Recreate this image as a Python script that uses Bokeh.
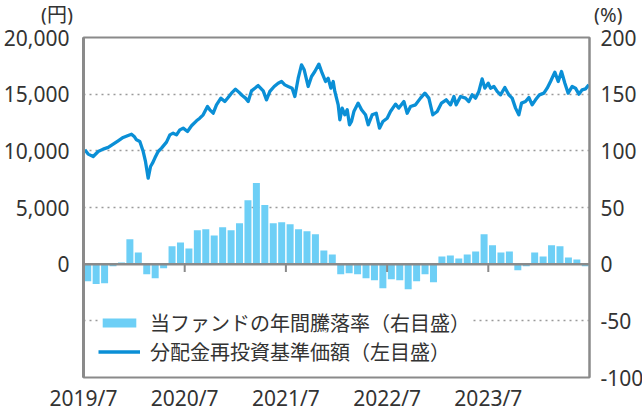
from bokeh.plotting import figure
from bokeh.layouts import column
from bokeh.models import (Range1d, LinearAxis, FixedTicker, Span, Legend, Div,
                          LegendItem, ColumnDataSource, NumeralTickFormatter)
from bokeh.embed import file_html
from bokeh.resources import INLINE

# ---- data ----
# months counted from 2019/7 (0 = start of 2019/7)
tick_months = [0, 12, 24, 36, 48]
tick_labels = ["2019/7", "2020/7", "2021/7", "2022/7", "2023/7"]
pct_ticks = [-100, -50, 0, 50, 100, 150, 200]
yen_ticks = [0, 5000, 10000, 15000, 20000]

# monthly annual return (%), 2019/7 .. 2024/6
bar_month = list(range(60))
annual_return = [
    -15.0, -17.5, -16.9, -1.8, 1.5, 21.9, 10.4, -8.9, -12.4, -3.6, 15.7, 19.2,
    13.9, 29.9, 30.8, 25.4, 32.5, 29.9, 36.1, 56.5, 71.6, 52.1, 36.1, 37.0,
    35.2, 30.8, 29.0, 26.3, 12.1, 8.6, -8.9, -8.0, -8.9, -12.4, -14.2, -21.3,
    -13.3, -14.2, -22.2, -15.1, -8.9, -16.0, 6.8, 7.7, 5.0, 8.6, 11.2, 26.3,
    16.6, 10.4, 11.2, -5.3, -1.8, 10.4, 6.8, 16.6, 15.7, 5.9, 4.1, -1.8,
]

# NAV (dividend reinvested, yen)
nav_month = [
    0.16, 0.55, 1.15, 1.74, 2.33, 2.93, 3.52, 4.11, 4.70, 5.30, 5.69, 6.01, 6.28,
    6.68, 7.08, 7.35, 7.67, 7.95, 8.18, 8.46, 8.85, 9.25, 9.84, 10.24, 10.63,
    11.03, 11.42, 11.82, 12.33, 12.81, 13.40, 13.79, 14.19, 14.70, 14.98, 15.38,
    15.77, 16.29, 16.76, 17.15, 17.55, 18.02, 18.42, 18.82, 19.21, 19.53, 19.92,
    20.32, 20.71, 21.31, 21.70, 22.10, 22.61, 23.08, 23.48, 23.87, 24.27, 24.74,
    25.06, 25.46, 25.85, 26.17, 26.64, 27.04, 27.43, 27.91, 28.30, 28.70, 29.01,
    29.33, 29.61, 29.80, 30.20, 30.40, 30.67, 30.99, 31.27, 31.54, 31.78, 32.06,
    32.57, 32.97, 33.44, 33.76, 34.23, 34.71, 35.10, 35.50, 36.01, 36.40, 37.00,
    37.39, 37.99, 38.38, 38.78, 39.37, 39.96, 40.48, 40.95, 41.42, 41.94, 42.45,
    43.01, 43.52, 43.92, 44.19, 44.71, 45.30, 45.69, 46.09, 46.48, 46.88, 47.27,
    47.59, 47.99, 48.26, 48.66, 49.05, 49.45, 49.96, 50.44, 50.83, 51.23, 51.62,
    51.94, 52.41, 52.81, 53.20, 53.60, 54.07, 54.59, 54.98, 55.38, 55.89, 56.29,
    56.68, 57.08, 57.47, 57.95, 58.34, 58.74, 59.13, 59.53, 59.92,
]
nav_value = [
    10090, 9710, 9500, 9940, 10150, 10300, 10590, 10880, 11180, 11360, 11470,
    11270, 10970, 10830, 9940, 9060, 7590, 8620, 8910, 9360, 9940, 10240, 10770,
    11410, 11560, 11410, 11850, 12000, 11710, 12210, 12650, 12880, 13180, 13910,
    13620, 13320, 14060, 14650, 14350, 14710, 15090, 15440, 15180, 14880, 14650,
    14350, 15290, 15530, 15760, 15290, 14500, 15240, 15680, 15970, 16120, 15820,
    15680, 15530, 14790, 16410, 17590, 17150, 15680, 16560, 17000, 17650, 16850,
    16120, 16410, 15530, 16120, 15240, 14060, 12740, 13770, 13180, 13620, 12300,
    12590, 13470, 14210, 13620, 13180, 12300, 13180, 13320, 12000, 12590, 12880,
    13470, 14120, 13770, 14350, 13320, 13910, 14060, 14650, 15090, 14650, 13180,
    13470, 14210, 14500, 14060, 14790, 14060, 14790, 14650, 14350, 14940, 14650,
    15240, 16350, 15530, 15970, 15530, 15680, 15240, 14940, 15590, 14940, 14650,
    13770, 13180, 14210, 14350, 14710, 14060, 14500, 14940, 15090, 15530, 16120,
    16940, 16120, 17000, 15970, 15090, 15680, 15530, 15000, 15380, 15470, 15820,
]

legend_bar = "当ファンドの年間騰落率（右目盛）"
legend_line = "分配金再投資基準価額（左目盛）"
left_unit = "(円)"
right_unit = "(%)"

FONT = "Noto Sans CJK JP"
NUMFONT = "Noto Sans"
TXT = "#333333"
GRAY = "#8a8a8a"
BAR_C = "#6dcff6"
LINE_C = "#0a8fd6"

p = figure(frame_width=506, frame_height=340, output_backend="svg",
           toolbar_location=None,
           x_range=Range1d(0, 60), y_range=Range1d(-10000, 20000),
           min_border_left=76, min_border_right=44, min_border_top=13,
           min_border_bottom=20)
p.extra_y_ranges = {"pct": Range1d(-100, 200)}

p.outline_line_color = GRAY
p.outline_line_width = 2
p.background_fill_color = "white"
p.border_fill_color = "white"

# grid
p.xgrid.visible = False
p.ygrid.ticker = FixedTicker(ticks=[-5000, 5000, 10000, 15000])
p.ygrid.grid_line_color = "#9a9a9a"
p.ygrid.grid_line_dash = "2 4"
p.ygrid.grid_line_width = 1.5

# axes
xa = p.xaxis[0]
xa.ticker = FixedTicker(ticks=tick_months)
xa.major_label_overrides = {m: l for m, l in zip(tick_months, tick_labels)}
xa.axis_line_color = None
xa.major_tick_line_color = None
xa.minor_tick_line_color = None
xa.major_label_text_font = NUMFONT
xa.major_label_text_font_size = "21px"
xa.major_label_text_color = TXT
xa.major_label_standoff = 0

ya = p.yaxis[0]
ya.ticker = FixedTicker(ticks=yen_ticks)
ya.formatter = NumeralTickFormatter(format="0,0")
ya.axis_line_color = GRAY
ya.axis_line_width = 3
ya.major_tick_line_color = None
ya.minor_tick_line_color = None
ya.major_label_text_font = NUMFONT
ya.major_label_text_font_size = "21px"
ya.major_label_text_color = TXT
ya.major_label_standoff = 8

ra = LinearAxis(y_range_name="pct", ticker=FixedTicker(ticks=pct_ticks))
ra.major_label_overrides = {t: str(t) for t in pct_ticks}
ra.axis_line_color = GRAY
ra.axis_line_width = 2
ra.major_tick_line_color = None
ra.minor_tick_line_color = None
ra.major_label_text_font = NUMFONT
ra.major_label_text_font_size = "21px"
ra.major_label_text_color = TXT
ra.major_label_standoff = 5
p.add_layout(ra, "right")

# data glyphs
bar_src = ColumnDataSource(dict(x=[m + 0.5 for m in bar_month], top=annual_return))
bars = p.vbar(x="x", top="top", bottom=0, width=0.83, source=bar_src,
              y_range_name="pct", fill_color=BAR_C, line_color=None)

line_src = ColumnDataSource(dict(x=nav_month, y=nav_value))
line = p.line(x="x", y="y", source=line_src, line_color=LINE_C, line_width=3.3,
              line_join="round")

# zero axis with ticks
p.add_layout(Span(location=0, dimension="width", line_color=GRAY, line_width=2.5))
p.segment(x0=tick_months[1:], y0=[0] * 4, x1=tick_months[1:], y1=[-700] * 4,
          line_color=GRAY, line_width=2)

legend = Legend(items=[LegendItem(label=legend_bar, renderers=[bars]),
                       LegendItem(label=legend_line, renderers=[line])],
                location=(15, 11))
legend.background_fill_color = "white"
legend.background_fill_alpha = 1.0
legend.border_line_color = None
legend.label_text_font = FONT
legend.label_text_font_size = "20px"
legend.label_text_color = TXT
legend.glyph_width = 42
legend.glyph_height = 11
legend.label_height = 24
legend.label_standoff = 10
legend.spacing = 0
legend.padding = 2
legend.margin = 0
p.add_layout(legend)

# unit captions above the axes
unit_html = (
    '<div style="position:relative;width:626px;height:24px;'
    "font-family:'Noto Sans','Noto Sans CJK JP';font-size:20px;"
    'line-height:21px;color:#333333;">'
    f'<span style="position:absolute;left:41px;top:4px;white-space:nowrap;">{left_unit}</span>'
    f'<span style="position:absolute;left:594px;top:4px;white-space:nowrap;">{right_unit}</span>'
    '</div>'
)
units = Div(text=unit_html, width=626, height=24, margin=0,
            styles={"overflow": "visible"})

layout = column(units, p, spacing=0, styles={"margin-bottom": "-16px"})

open("out.html", "w").write(file_html(layout, INLINE))
